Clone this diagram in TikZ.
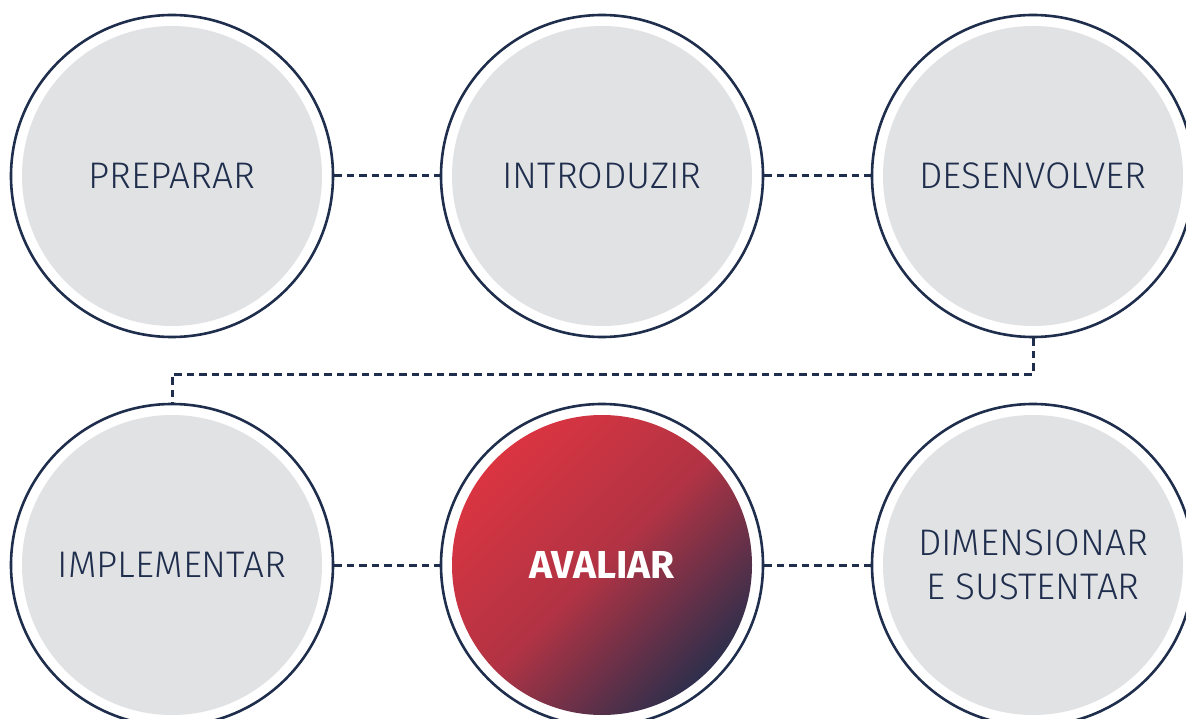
\documentclass[tikz,border=0pt]{standalone}
\usepackage{fontspec}
\setmainfont{Fira Sans}[UprightFont={* Light},BoldFont={* Bold}]
\definecolor{navy}{HTML}{1F2E4D}
\definecolor{disc}{HTML}{E1E2E4}
\definecolor{hot}{HTML}{EA3540}
\pgfdeclareverticalshading{avalshade}{100bp}{color(0bp)=(navy); color(24bp)=(navy); color(50bp)=(hot!72!navy); color(82bp)=(hot); color(100bp)=(hot)}
\tikzset{
  stage/.style={circle,minimum size=322pt,inner sep=0pt,draw=navy,line width=2.6pt,fill=white,
    text=navy,align=center,font=\fontsize{37}{44}\selectfont,
    path picture={\fill[disc] (path picture bounding box.center) circle (150pt);}},
  hotstage/.style={stage,text=white,font=\fontsize{39}{44}\selectfont\bfseries,
    path picture={\shade[shading=avalshade,shading angle=45] (path picture bounding box.center) circle (150pt);}},
  link/.style={navy,line width=3pt,dash pattern=on 7.5pt off 5pt}
}
\begin{document}
\begin{tikzpicture}[x=1pt,y=-1pt]
\useasboundingbox (0,0) rectangle (1186,719);
\node[stage] (prep) at (172,176) {PREPARAR};
\node[stage] (intro) at (602,176) {INTRODUZIR};
\node[stage] (desen) at (1033,176) {DESENVOLVER};
\node[stage] (impl) at (172,565) {IMPLEMENTAR};
\node[hotstage] (aval) at (602,565) {AVALIAR};
\node[stage] (dimen) at (1033,565) {DIMENSIONAR\\E SUSTENTAR};
\draw[link] (prep.east) -- (intro.west);
\draw[link] (intro.east) -- (desen.west);
\draw[link] (desen.south) -- ++(0,36) -| (impl.north);
\draw[link] (impl.east) -- (aval.west);
\draw[link] (aval.east) -- (dimen.west);
\end{tikzpicture}
\end{document}
